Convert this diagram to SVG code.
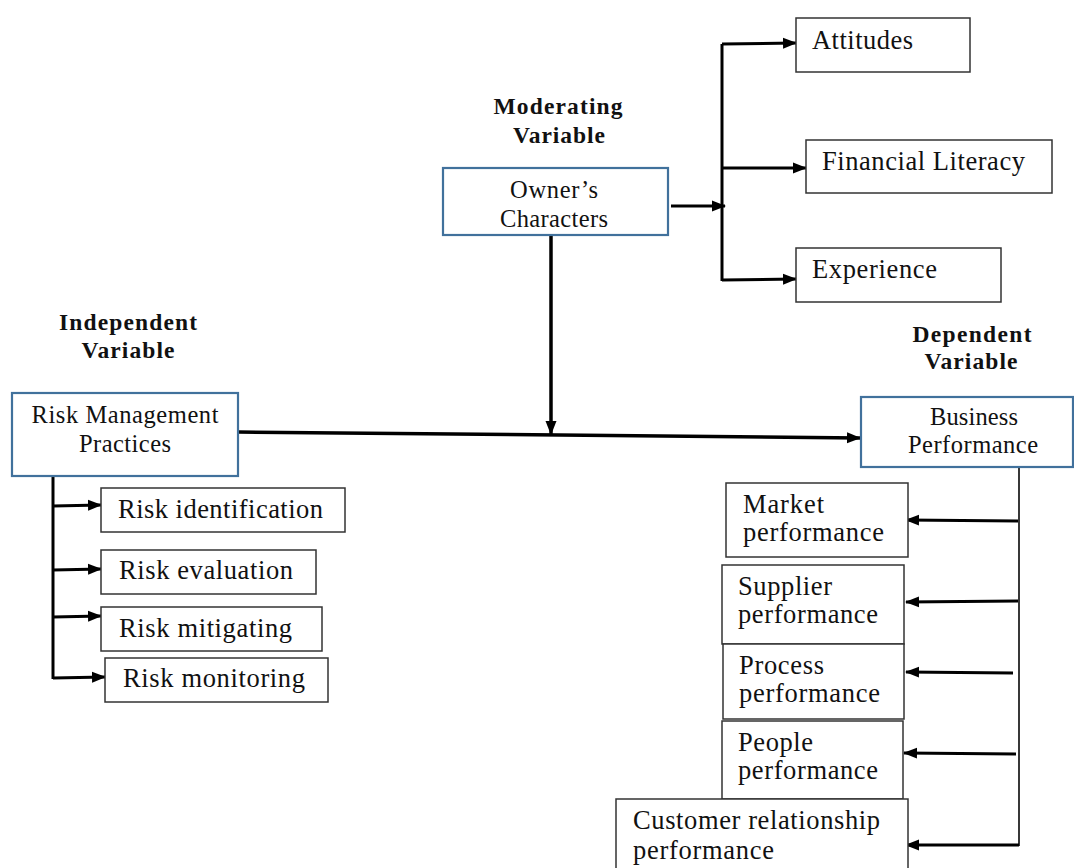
<svg xmlns="http://www.w3.org/2000/svg" width="1074" height="868" viewBox="0 0 1074 868">
<defs>
<marker id="ah" markerWidth="14" markerHeight="12" refX="13" refY="6" orient="auto" markerUnits="userSpaceOnUse">
<path d="M0,0.5 L14,6 L0,11.5 Z" fill="#000"/>
</marker>
<style>
.t{font-family:"Liberation Serif","Times New Roman",serif;fill:#111;}
.b{font-size:26.5px;}
.m{font-size:24.5px;}
.h{font-size:23.5px;font-weight:bold;}
.bx{fill:#fff;stroke:#333;stroke-width:1.5;}
.bl{fill:#fff;stroke:#41719c;stroke-width:2.2;}
.c{fill:none;stroke:#000;stroke-width:3;}
.ca{fill:none;stroke:#000;stroke-width:3;marker-end:url(#ah);}
.thin{fill:none;stroke:#222;stroke-width:1.8;}
</style>
</defs>
<rect width="1074" height="868" fill="#fff"/>

<g id="connectors">
<line class="ca" x1="671" y1="206" x2="725" y2="206"/>
<line class="c" x1="722" y1="44" x2="722" y2="281"/>
<line class="ca" x1="722" y1="44" x2="796" y2="43"/>
<line class="ca" x1="722" y1="168" x2="806" y2="168"/>
<line class="ca" x1="722" y1="280" x2="796" y2="279"/>
<line class="ca" x1="551" y1="236" x2="551" y2="434" style="stroke-width:3.5"/>
<line class="ca" x1="238" y1="432" x2="860" y2="438" style="stroke-width:3.5"/>
<line class="c" x1="53" y1="477" x2="53" y2="679"/>
<line class="ca" x1="53" y1="506" x2="101" y2="505"/>
<line class="ca" x1="53" y1="570" x2="101" y2="569"/>
<line class="ca" x1="53" y1="617" x2="101" y2="616"/>
<line class="ca" x1="53" y1="678" x2="105" y2="677"/>
<line class="thin" x1="1019" y1="467" x2="1019" y2="846"/>
<line class="ca" x1="1018" y1="521" x2="906" y2="520"/>
<line class="ca" x1="1018" y1="601" x2="906" y2="602"/>
<line class="ca" x1="1013" y1="673" x2="906" y2="672"/>
<line class="ca" x1="1016" y1="754" x2="904" y2="753"/>
<line class="ca" x1="1019" y1="845" x2="906" y2="845"/>
</g>

<g id="label-moderating">
<text class="t h" x="558" y="114" text-anchor="middle" textLength="129" lengthAdjust="spacing">Moderating</text>
<text class="t h" x="559" y="143" text-anchor="middle" textLength="92" lengthAdjust="spacing">Variable</text>
</g>
<g id="label-independent">
<text class="t h" x="128" y="330" text-anchor="middle" textLength="138" lengthAdjust="spacing">Independent</text>
<text class="t h" x="128" y="358" text-anchor="middle" textLength="93" lengthAdjust="spacing">Variable</text>
</g>
<g id="label-dependent">
<text class="t h" x="972" y="342" text-anchor="middle" textLength="119" lengthAdjust="spacing">Dependent</text>
<text class="t h" x="971" y="369" text-anchor="middle" textLength="93" lengthAdjust="spacing">Variable</text>
</g>

<g id="owners-characters">
<rect class="bl" x="443" y="168" width="225" height="67"/>
<text class="t m" x="554" y="198" text-anchor="middle" textLength="88" lengthAdjust="spacing">Owner’s</text>
<text class="t m" x="554" y="227" text-anchor="middle" textLength="108" lengthAdjust="spacing">Characters</text>
</g>
<g id="attitudes">
<rect class="bx" x="796" y="18" width="174" height="54"/>
<text class="t b" x="812" y="49" textLength="101" lengthAdjust="spacing">Attitudes</text>
</g>
<g id="financial-literacy">
<rect class="bx" x="806" y="140" width="246" height="53"/>
<text class="t b" x="822" y="170" textLength="203" lengthAdjust="spacing">Financial Literacy</text>
</g>
<g id="experience">
<rect class="bx" x="796" y="248" width="205" height="54"/>
<text class="t b" x="812" y="278" textLength="125" lengthAdjust="spacing">Experience</text>
</g>

<g id="risk-management-practices">
<rect class="bl" x="12" y="393" width="226" height="83"/>
<text class="t m" x="125" y="423" text-anchor="middle" textLength="187" lengthAdjust="spacing">Risk Management</text>
<text class="t m" x="125" y="452" text-anchor="middle" textLength="92" lengthAdjust="spacing">Practices</text>
</g>
<g id="risk-identification">
<rect class="bx" x="101" y="488" width="244" height="44"/>
<text class="t b" x="118" y="518" textLength="205" lengthAdjust="spacing">Risk identification</text>
</g>
<g id="risk-evaluation">
<rect class="bx" x="101" y="550" width="215" height="44"/>
<text class="t b" x="119" y="579" textLength="174" lengthAdjust="spacing">Risk evaluation</text>
</g>
<g id="risk-mitigating">
<rect class="bx" x="101" y="607" width="221" height="44"/>
<text class="t b" x="119" y="637" textLength="173" lengthAdjust="spacing">Risk mitigating</text>
</g>
<g id="risk-monitoring">
<rect class="bx" x="105" y="658" width="223" height="44"/>
<text class="t b" x="123" y="687" textLength="182" lengthAdjust="spacing">Risk monitoring</text>
</g>

<g id="business-performance">
<rect class="bl" x="861" y="397" width="212" height="70"/>
<text class="t m" x="974" y="425" text-anchor="middle" textLength="88" lengthAdjust="spacing">Business</text>
<text class="t m" x="973" y="453" text-anchor="middle" textLength="130" lengthAdjust="spacing">Performance</text>
</g>
<g id="market-performance">
<rect class="bx" x="726" y="483" width="182" height="74"/>
<text class="t b" x="743" y="513" textLength="81" lengthAdjust="spacing">Market</text>
<text class="t b" x="743" y="541" textLength="141" lengthAdjust="spacing">performance</text>
</g>
<g id="supplier-performance">
<rect class="bx" x="722" y="565" width="182" height="79"/>
<text class="t b" x="738" y="595" textLength="94" lengthAdjust="spacing">Supplier</text>
<text class="t b" x="738" y="623" textLength="140" lengthAdjust="spacing">performance</text>
</g>
<g id="process-performance">
<rect class="bx" x="723" y="644" width="181" height="75"/>
<text class="t b" x="739" y="674" textLength="85" lengthAdjust="spacing">Process</text>
<text class="t b" x="739" y="702" textLength="141" lengthAdjust="spacing">performance</text>
</g>
<g id="people-performance">
<rect class="bx" x="722" y="721" width="181" height="78"/>
<text class="t b" x="738" y="751" textLength="75" lengthAdjust="spacing">People</text>
<text class="t b" x="738" y="779" textLength="140" lengthAdjust="spacing">performance</text>
</g>
<g id="customer-relationship-performance">
<rect class="bx" x="616" y="799" width="292" height="75"/>
<text class="t b" x="633" y="829" textLength="247" lengthAdjust="spacing">Customer relationship</text>
<text class="t b" x="633" y="859" textLength="141" lengthAdjust="spacing">performance</text>
</g>
</svg>
